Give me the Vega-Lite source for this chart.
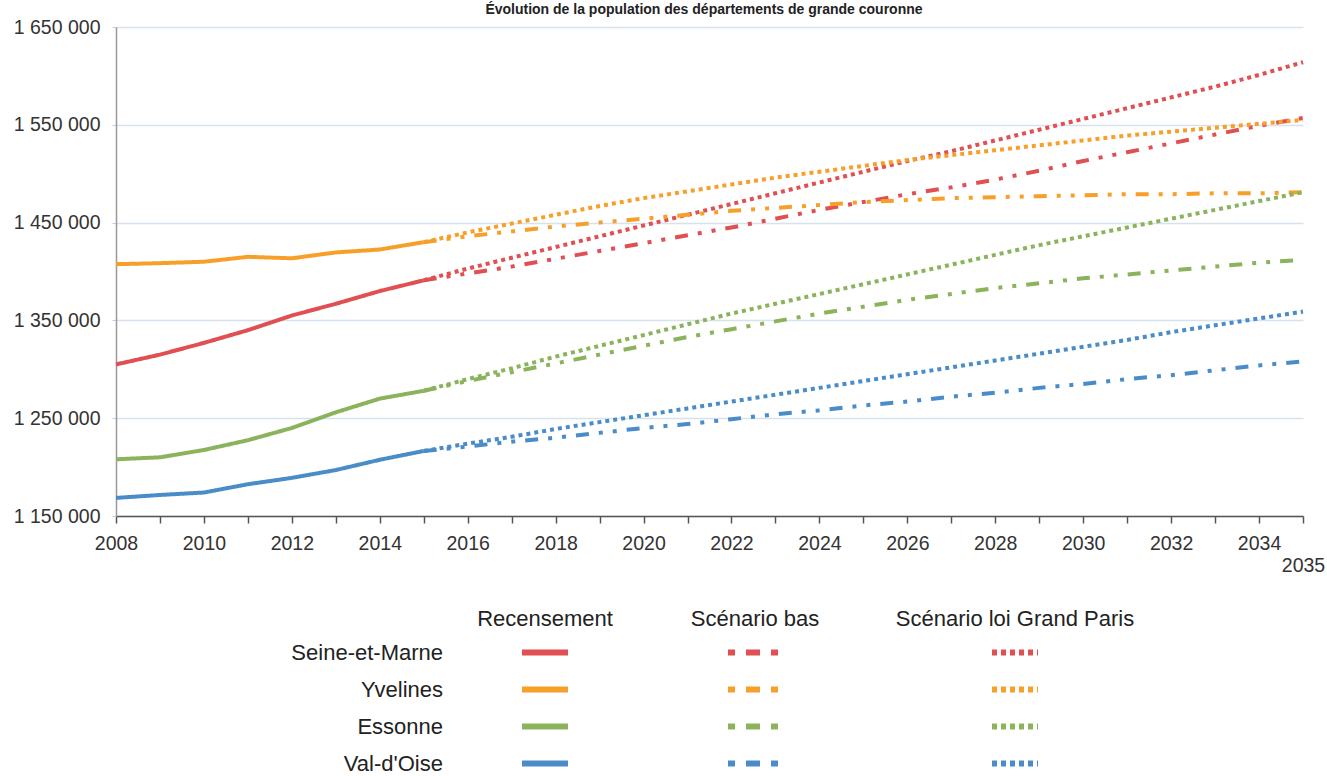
{
  "$schema": "https://vega.github.io/schema/vega-lite/v6.json",
  "padding": {"top": 3, "left": 13, "right": 0, "bottom": 0},
  "background": "white",
  "title": {"text": "Évolution de la population des départements de grande couronne", "fontSize": 14, "fontWeight": "bold", "font": "Liberation Sans", "color": "#222", "anchor": "middle", "dx": 35, "offset": 0},
  "config": {
    "view": {"stroke": null},
    "font": "Liberation Sans",
    "locale": {"number": {"decimal": ",", "thousands": " ", "grouping": [3], "currency": ["", " €"]}}
  },
  "resolve": {"scale": {"x": "independent", "y": "independent"}},
  "spacing": 22,
  "datasets": {
    "main": [
      {"dept": "Seine-et-Marne", "scenario": "Recensement", "year": 2008, "pop": 1305000},
      {"dept": "Seine-et-Marne", "scenario": "Recensement", "year": 2009, "pop": 1315000},
      {"dept": "Seine-et-Marne", "scenario": "Recensement", "year": 2010, "pop": 1327000},
      {"dept": "Seine-et-Marne", "scenario": "Recensement", "year": 2011, "pop": 1340000},
      {"dept": "Seine-et-Marne", "scenario": "Recensement", "year": 2012, "pop": 1355000},
      {"dept": "Seine-et-Marne", "scenario": "Recensement", "year": 2013, "pop": 1367000},
      {"dept": "Seine-et-Marne", "scenario": "Recensement", "year": 2014, "pop": 1380000},
      {"dept": "Seine-et-Marne", "scenario": "Recensement", "year": 2015, "pop": 1391000},
      {"dept": "Yvelines", "scenario": "Recensement", "year": 2008, "pop": 1407500},
      {"dept": "Yvelines", "scenario": "Recensement", "year": 2009, "pop": 1408500},
      {"dept": "Yvelines", "scenario": "Recensement", "year": 2010, "pop": 1410000},
      {"dept": "Yvelines", "scenario": "Recensement", "year": 2011, "pop": 1415000},
      {"dept": "Yvelines", "scenario": "Recensement", "year": 2012, "pop": 1413500},
      {"dept": "Yvelines", "scenario": "Recensement", "year": 2013, "pop": 1419500},
      {"dept": "Yvelines", "scenario": "Recensement", "year": 2014, "pop": 1422500},
      {"dept": "Yvelines", "scenario": "Recensement", "year": 2015, "pop": 1430000},
      {"dept": "Essonne", "scenario": "Recensement", "year": 2008, "pop": 1208000},
      {"dept": "Essonne", "scenario": "Recensement", "year": 2009, "pop": 1210000},
      {"dept": "Essonne", "scenario": "Recensement", "year": 2010, "pop": 1217500},
      {"dept": "Essonne", "scenario": "Recensement", "year": 2011, "pop": 1227500},
      {"dept": "Essonne", "scenario": "Recensement", "year": 2012, "pop": 1240000},
      {"dept": "Essonne", "scenario": "Recensement", "year": 2013, "pop": 1256000},
      {"dept": "Essonne", "scenario": "Recensement", "year": 2014, "pop": 1270000},
      {"dept": "Essonne", "scenario": "Recensement", "year": 2015, "pop": 1278000},
      {"dept": "Val-d'Oise", "scenario": "Recensement", "year": 2008, "pop": 1168500},
      {"dept": "Val-d'Oise", "scenario": "Recensement", "year": 2009, "pop": 1171500},
      {"dept": "Val-d'Oise", "scenario": "Recensement", "year": 2010, "pop": 1174000},
      {"dept": "Val-d'Oise", "scenario": "Recensement", "year": 2011, "pop": 1182500},
      {"dept": "Val-d'Oise", "scenario": "Recensement", "year": 2012, "pop": 1189000},
      {"dept": "Val-d'Oise", "scenario": "Recensement", "year": 2013, "pop": 1197000},
      {"dept": "Val-d'Oise", "scenario": "Recensement", "year": 2014, "pop": 1207500},
      {"dept": "Val-d'Oise", "scenario": "Recensement", "year": 2015, "pop": 1216500},

      {"dept": "Seine-et-Marne", "scenario": "Scénario bas", "year": 2015, "pop": 1391000},
      {"dept": "Seine-et-Marne", "scenario": "Scénario bas", "year": 2016, "pop": 1398000},
      {"dept": "Seine-et-Marne", "scenario": "Scénario bas", "year": 2017, "pop": 1405000},
      {"dept": "Seine-et-Marne", "scenario": "Scénario bas", "year": 2018, "pop": 1413000},
      {"dept": "Seine-et-Marne", "scenario": "Scénario bas", "year": 2019, "pop": 1421000},
      {"dept": "Seine-et-Marne", "scenario": "Scénario bas", "year": 2020, "pop": 1429000},
      {"dept": "Seine-et-Marne", "scenario": "Scénario bas", "year": 2021, "pop": 1437000},
      {"dept": "Seine-et-Marne", "scenario": "Scénario bas", "year": 2022, "pop": 1445000},
      {"dept": "Seine-et-Marne", "scenario": "Scénario bas", "year": 2023, "pop": 1454000},
      {"dept": "Seine-et-Marne", "scenario": "Scénario bas", "year": 2024, "pop": 1463000},
      {"dept": "Seine-et-Marne", "scenario": "Scénario bas", "year": 2025, "pop": 1471000},
      {"dept": "Seine-et-Marne", "scenario": "Scénario bas", "year": 2026, "pop": 1479000},
      {"dept": "Seine-et-Marne", "scenario": "Scénario bas", "year": 2027, "pop": 1486000},
      {"dept": "Seine-et-Marne", "scenario": "Scénario bas", "year": 2028, "pop": 1494000},
      {"dept": "Seine-et-Marne", "scenario": "Scénario bas", "year": 2029, "pop": 1503000},
      {"dept": "Seine-et-Marne", "scenario": "Scénario bas", "year": 2030, "pop": 1513000},
      {"dept": "Seine-et-Marne", "scenario": "Scénario bas", "year": 2031, "pop": 1522000},
      {"dept": "Seine-et-Marne", "scenario": "Scénario bas", "year": 2032, "pop": 1531000},
      {"dept": "Seine-et-Marne", "scenario": "Scénario bas", "year": 2033, "pop": 1540000},
      {"dept": "Seine-et-Marne", "scenario": "Scénario bas", "year": 2034, "pop": 1549000},
      {"dept": "Seine-et-Marne", "scenario": "Scénario bas", "year": 2035, "pop": 1557000},
      {"dept": "Seine-et-Marne", "scenario": "Scénario loi Grand Paris", "year": 2015, "pop": 1391000},
      {"dept": "Seine-et-Marne", "scenario": "Scénario loi Grand Paris", "year": 2016, "pop": 1403000},
      {"dept": "Seine-et-Marne", "scenario": "Scénario loi Grand Paris", "year": 2017, "pop": 1414000},
      {"dept": "Seine-et-Marne", "scenario": "Scénario loi Grand Paris", "year": 2018, "pop": 1425000},
      {"dept": "Seine-et-Marne", "scenario": "Scénario loi Grand Paris", "year": 2019, "pop": 1436000},
      {"dept": "Seine-et-Marne", "scenario": "Scénario loi Grand Paris", "year": 2020, "pop": 1447000},
      {"dept": "Seine-et-Marne", "scenario": "Scénario loi Grand Paris", "year": 2021, "pop": 1458000},
      {"dept": "Seine-et-Marne", "scenario": "Scénario loi Grand Paris", "year": 2022, "pop": 1469000},
      {"dept": "Seine-et-Marne", "scenario": "Scénario loi Grand Paris", "year": 2023, "pop": 1480000},
      {"dept": "Seine-et-Marne", "scenario": "Scénario loi Grand Paris", "year": 2024, "pop": 1491000},
      {"dept": "Seine-et-Marne", "scenario": "Scénario loi Grand Paris", "year": 2025, "pop": 1502000},
      {"dept": "Seine-et-Marne", "scenario": "Scénario loi Grand Paris", "year": 2026, "pop": 1513000},
      {"dept": "Seine-et-Marne", "scenario": "Scénario loi Grand Paris", "year": 2027, "pop": 1523000},
      {"dept": "Seine-et-Marne", "scenario": "Scénario loi Grand Paris", "year": 2028, "pop": 1534000},
      {"dept": "Seine-et-Marne", "scenario": "Scénario loi Grand Paris", "year": 2029, "pop": 1545000},
      {"dept": "Seine-et-Marne", "scenario": "Scénario loi Grand Paris", "year": 2030, "pop": 1556000},
      {"dept": "Seine-et-Marne", "scenario": "Scénario loi Grand Paris", "year": 2031, "pop": 1567000},
      {"dept": "Seine-et-Marne", "scenario": "Scénario loi Grand Paris", "year": 2032, "pop": 1578000},
      {"dept": "Seine-et-Marne", "scenario": "Scénario loi Grand Paris", "year": 2033, "pop": 1589000},
      {"dept": "Seine-et-Marne", "scenario": "Scénario loi Grand Paris", "year": 2034, "pop": 1601000},
      {"dept": "Seine-et-Marne", "scenario": "Scénario loi Grand Paris", "year": 2035, "pop": 1614000},

      {"dept": "Yvelines", "scenario": "Scénario bas", "year": 2015, "pop": 1430000},
      {"dept": "Yvelines", "scenario": "Scénario bas", "year": 2016, "pop": 1436000},
      {"dept": "Yvelines", "scenario": "Scénario bas", "year": 2017, "pop": 1441000},
      {"dept": "Yvelines", "scenario": "Scénario bas", "year": 2018, "pop": 1446000},
      {"dept": "Yvelines", "scenario": "Scénario bas", "year": 2019, "pop": 1450000},
      {"dept": "Yvelines", "scenario": "Scénario bas", "year": 2020, "pop": 1454000},
      {"dept": "Yvelines", "scenario": "Scénario bas", "year": 2021, "pop": 1458000},
      {"dept": "Yvelines", "scenario": "Scénario bas", "year": 2022, "pop": 1462000},
      {"dept": "Yvelines", "scenario": "Scénario bas", "year": 2023, "pop": 1465000},
      {"dept": "Yvelines", "scenario": "Scénario bas", "year": 2024, "pop": 1468000},
      {"dept": "Yvelines", "scenario": "Scénario bas", "year": 2025, "pop": 1471000},
      {"dept": "Yvelines", "scenario": "Scénario bas", "year": 2026, "pop": 1473000},
      {"dept": "Yvelines", "scenario": "Scénario bas", "year": 2027, "pop": 1475000},
      {"dept": "Yvelines", "scenario": "Scénario bas", "year": 2028, "pop": 1476000},
      {"dept": "Yvelines", "scenario": "Scénario bas", "year": 2029, "pop": 1477000},
      {"dept": "Yvelines", "scenario": "Scénario bas", "year": 2030, "pop": 1478000},
      {"dept": "Yvelines", "scenario": "Scénario bas", "year": 2031, "pop": 1479000},
      {"dept": "Yvelines", "scenario": "Scénario bas", "year": 2032, "pop": 1479000},
      {"dept": "Yvelines", "scenario": "Scénario bas", "year": 2033, "pop": 1480000},
      {"dept": "Yvelines", "scenario": "Scénario bas", "year": 2034, "pop": 1480000},
      {"dept": "Yvelines", "scenario": "Scénario bas", "year": 2035, "pop": 1481000},
      {"dept": "Yvelines", "scenario": "Scénario loi Grand Paris", "year": 2015, "pop": 1430000},
      {"dept": "Yvelines", "scenario": "Scénario loi Grand Paris", "year": 2016, "pop": 1440000},
      {"dept": "Yvelines", "scenario": "Scénario loi Grand Paris", "year": 2017, "pop": 1449000},
      {"dept": "Yvelines", "scenario": "Scénario loi Grand Paris", "year": 2018, "pop": 1458000},
      {"dept": "Yvelines", "scenario": "Scénario loi Grand Paris", "year": 2019, "pop": 1467000},
      {"dept": "Yvelines", "scenario": "Scénario loi Grand Paris", "year": 2020, "pop": 1475000},
      {"dept": "Yvelines", "scenario": "Scénario loi Grand Paris", "year": 2021, "pop": 1482000},
      {"dept": "Yvelines", "scenario": "Scénario loi Grand Paris", "year": 2022, "pop": 1489000},
      {"dept": "Yvelines", "scenario": "Scénario loi Grand Paris", "year": 2023, "pop": 1496000},
      {"dept": "Yvelines", "scenario": "Scénario loi Grand Paris", "year": 2024, "pop": 1502000},
      {"dept": "Yvelines", "scenario": "Scénario loi Grand Paris", "year": 2025, "pop": 1508000},
      {"dept": "Yvelines", "scenario": "Scénario loi Grand Paris", "year": 2026, "pop": 1514000},
      {"dept": "Yvelines", "scenario": "Scénario loi Grand Paris", "year": 2027, "pop": 1519000},
      {"dept": "Yvelines", "scenario": "Scénario loi Grand Paris", "year": 2028, "pop": 1524000},
      {"dept": "Yvelines", "scenario": "Scénario loi Grand Paris", "year": 2029, "pop": 1529000},
      {"dept": "Yvelines", "scenario": "Scénario loi Grand Paris", "year": 2030, "pop": 1534000},
      {"dept": "Yvelines", "scenario": "Scénario loi Grand Paris", "year": 2031, "pop": 1539000},
      {"dept": "Yvelines", "scenario": "Scénario loi Grand Paris", "year": 2032, "pop": 1543000},
      {"dept": "Yvelines", "scenario": "Scénario loi Grand Paris", "year": 2033, "pop": 1547000},
      {"dept": "Yvelines", "scenario": "Scénario loi Grand Paris", "year": 2034, "pop": 1551000},
      {"dept": "Yvelines", "scenario": "Scénario loi Grand Paris", "year": 2035, "pop": 1555000},

      {"dept": "Essonne", "scenario": "Scénario bas", "year": 2015, "pop": 1278000},
      {"dept": "Essonne", "scenario": "Scénario bas", "year": 2016, "pop": 1288000},
      {"dept": "Essonne", "scenario": "Scénario bas", "year": 2017, "pop": 1297000},
      {"dept": "Essonne", "scenario": "Scénario bas", "year": 2018, "pop": 1306000},
      {"dept": "Essonne", "scenario": "Scénario bas", "year": 2019, "pop": 1315000},
      {"dept": "Essonne", "scenario": "Scénario bas", "year": 2020, "pop": 1324000},
      {"dept": "Essonne", "scenario": "Scénario bas", "year": 2021, "pop": 1333000},
      {"dept": "Essonne", "scenario": "Scénario bas", "year": 2022, "pop": 1341000},
      {"dept": "Essonne", "scenario": "Scénario bas", "year": 2023, "pop": 1349000},
      {"dept": "Essonne", "scenario": "Scénario bas", "year": 2024, "pop": 1357000},
      {"dept": "Essonne", "scenario": "Scénario bas", "year": 2025, "pop": 1364000},
      {"dept": "Essonne", "scenario": "Scénario bas", "year": 2026, "pop": 1371000},
      {"dept": "Essonne", "scenario": "Scénario bas", "year": 2027, "pop": 1377000},
      {"dept": "Essonne", "scenario": "Scénario bas", "year": 2028, "pop": 1383000},
      {"dept": "Essonne", "scenario": "Scénario bas", "year": 2029, "pop": 1388000},
      {"dept": "Essonne", "scenario": "Scénario bas", "year": 2030, "pop": 1393000},
      {"dept": "Essonne", "scenario": "Scénario bas", "year": 2031, "pop": 1397000},
      {"dept": "Essonne", "scenario": "Scénario bas", "year": 2032, "pop": 1401000},
      {"dept": "Essonne", "scenario": "Scénario bas", "year": 2033, "pop": 1405000},
      {"dept": "Essonne", "scenario": "Scénario bas", "year": 2034, "pop": 1409000},
      {"dept": "Essonne", "scenario": "Scénario bas", "year": 2035, "pop": 1412000},
      {"dept": "Essonne", "scenario": "Scénario loi Grand Paris", "year": 2015, "pop": 1278000},
      {"dept": "Essonne", "scenario": "Scénario loi Grand Paris", "year": 2016, "pop": 1290000},
      {"dept": "Essonne", "scenario": "Scénario loi Grand Paris", "year": 2017, "pop": 1301000},
      {"dept": "Essonne", "scenario": "Scénario loi Grand Paris", "year": 2018, "pop": 1313000},
      {"dept": "Essonne", "scenario": "Scénario loi Grand Paris", "year": 2019, "pop": 1324000},
      {"dept": "Essonne", "scenario": "Scénario loi Grand Paris", "year": 2020, "pop": 1335000},
      {"dept": "Essonne", "scenario": "Scénario loi Grand Paris", "year": 2021, "pop": 1346000},
      {"dept": "Essonne", "scenario": "Scénario loi Grand Paris", "year": 2022, "pop": 1357000},
      {"dept": "Essonne", "scenario": "Scénario loi Grand Paris", "year": 2023, "pop": 1367000},
      {"dept": "Essonne", "scenario": "Scénario loi Grand Paris", "year": 2024, "pop": 1377000},
      {"dept": "Essonne", "scenario": "Scénario loi Grand Paris", "year": 2025, "pop": 1387000},
      {"dept": "Essonne", "scenario": "Scénario loi Grand Paris", "year": 2026, "pop": 1397000},
      {"dept": "Essonne", "scenario": "Scénario loi Grand Paris", "year": 2027, "pop": 1407000},
      {"dept": "Essonne", "scenario": "Scénario loi Grand Paris", "year": 2028, "pop": 1417000},
      {"dept": "Essonne", "scenario": "Scénario loi Grand Paris", "year": 2029, "pop": 1427000},
      {"dept": "Essonne", "scenario": "Scénario loi Grand Paris", "year": 2030, "pop": 1436000},
      {"dept": "Essonne", "scenario": "Scénario loi Grand Paris", "year": 2031, "pop": 1445000},
      {"dept": "Essonne", "scenario": "Scénario loi Grand Paris", "year": 2032, "pop": 1454000},
      {"dept": "Essonne", "scenario": "Scénario loi Grand Paris", "year": 2033, "pop": 1463000},
      {"dept": "Essonne", "scenario": "Scénario loi Grand Paris", "year": 2034, "pop": 1472000},
      {"dept": "Essonne", "scenario": "Scénario loi Grand Paris", "year": 2035, "pop": 1481000},

      {"dept": "Val-d'Oise", "scenario": "Scénario bas", "year": 2015, "pop": 1216500},
      {"dept": "Val-d'Oise", "scenario": "Scénario bas", "year": 2016, "pop": 1221000},
      {"dept": "Val-d'Oise", "scenario": "Scénario bas", "year": 2017, "pop": 1226000},
      {"dept": "Val-d'Oise", "scenario": "Scénario bas", "year": 2018, "pop": 1230000},
      {"dept": "Val-d'Oise", "scenario": "Scénario bas", "year": 2019, "pop": 1235000},
      {"dept": "Val-d'Oise", "scenario": "Scénario bas", "year": 2020, "pop": 1240000},
      {"dept": "Val-d'Oise", "scenario": "Scénario bas", "year": 2021, "pop": 1244000},
      {"dept": "Val-d'Oise", "scenario": "Scénario bas", "year": 2022, "pop": 1249000},
      {"dept": "Val-d'Oise", "scenario": "Scénario bas", "year": 2023, "pop": 1254000},
      {"dept": "Val-d'Oise", "scenario": "Scénario bas", "year": 2024, "pop": 1258000},
      {"dept": "Val-d'Oise", "scenario": "Scénario bas", "year": 2025, "pop": 1263000},
      {"dept": "Val-d'Oise", "scenario": "Scénario bas", "year": 2026, "pop": 1267000},
      {"dept": "Val-d'Oise", "scenario": "Scénario bas", "year": 2027, "pop": 1272000},
      {"dept": "Val-d'Oise", "scenario": "Scénario bas", "year": 2028, "pop": 1276000},
      {"dept": "Val-d'Oise", "scenario": "Scénario bas", "year": 2029, "pop": 1281000},
      {"dept": "Val-d'Oise", "scenario": "Scénario bas", "year": 2030, "pop": 1285000},
      {"dept": "Val-d'Oise", "scenario": "Scénario bas", "year": 2031, "pop": 1290000},
      {"dept": "Val-d'Oise", "scenario": "Scénario bas", "year": 2032, "pop": 1294000},
      {"dept": "Val-d'Oise", "scenario": "Scénario bas", "year": 2033, "pop": 1299000},
      {"dept": "Val-d'Oise", "scenario": "Scénario bas", "year": 2034, "pop": 1304000},
      {"dept": "Val-d'Oise", "scenario": "Scénario bas", "year": 2035, "pop": 1308000},
      {"dept": "Val-d'Oise", "scenario": "Scénario loi Grand Paris", "year": 2015, "pop": 1216500},
      {"dept": "Val-d'Oise", "scenario": "Scénario loi Grand Paris", "year": 2016, "pop": 1224000},
      {"dept": "Val-d'Oise", "scenario": "Scénario loi Grand Paris", "year": 2017, "pop": 1231000},
      {"dept": "Val-d'Oise", "scenario": "Scénario loi Grand Paris", "year": 2018, "pop": 1239000},
      {"dept": "Val-d'Oise", "scenario": "Scénario loi Grand Paris", "year": 2019, "pop": 1246000},
      {"dept": "Val-d'Oise", "scenario": "Scénario loi Grand Paris", "year": 2020, "pop": 1253000},
      {"dept": "Val-d'Oise", "scenario": "Scénario loi Grand Paris", "year": 2021, "pop": 1260000},
      {"dept": "Val-d'Oise", "scenario": "Scénario loi Grand Paris", "year": 2022, "pop": 1267000},
      {"dept": "Val-d'Oise", "scenario": "Scénario loi Grand Paris", "year": 2023, "pop": 1274000},
      {"dept": "Val-d'Oise", "scenario": "Scénario loi Grand Paris", "year": 2024, "pop": 1281000},
      {"dept": "Val-d'Oise", "scenario": "Scénario loi Grand Paris", "year": 2025, "pop": 1288000},
      {"dept": "Val-d'Oise", "scenario": "Scénario loi Grand Paris", "year": 2026, "pop": 1295000},
      {"dept": "Val-d'Oise", "scenario": "Scénario loi Grand Paris", "year": 2027, "pop": 1302000},
      {"dept": "Val-d'Oise", "scenario": "Scénario loi Grand Paris", "year": 2028, "pop": 1309000},
      {"dept": "Val-d'Oise", "scenario": "Scénario loi Grand Paris", "year": 2029, "pop": 1316000},
      {"dept": "Val-d'Oise", "scenario": "Scénario loi Grand Paris", "year": 2030, "pop": 1323000},
      {"dept": "Val-d'Oise", "scenario": "Scénario loi Grand Paris", "year": 2031, "pop": 1330000},
      {"dept": "Val-d'Oise", "scenario": "Scénario loi Grand Paris", "year": 2032, "pop": 1338000},
      {"dept": "Val-d'Oise", "scenario": "Scénario loi Grand Paris", "year": 2033, "pop": 1345000},
      {"dept": "Val-d'Oise", "scenario": "Scénario loi Grand Paris", "year": 2034, "pop": 1352000},
      {"dept": "Val-d'Oise", "scenario": "Scénario loi Grand Paris", "year": 2035, "pop": 1359000}
    ],
    "legend": [
      {"dept": "Seine-et-Marne", "scenario": "Recensement"},
      {"dept": "Yvelines", "scenario": "Recensement"},
      {"dept": "Essonne", "scenario": "Recensement"},
      {"dept": "Val-d'Oise", "scenario": "Recensement"},
      {"dept": "Seine-et-Marne", "scenario": "Scénario bas"},
      {"dept": "Yvelines", "scenario": "Scénario bas"},
      {"dept": "Essonne", "scenario": "Scénario bas"},
      {"dept": "Val-d'Oise", "scenario": "Scénario bas"},
      {"dept": "Seine-et-Marne", "scenario": "Scénario loi Grand Paris"},
      {"dept": "Yvelines", "scenario": "Scénario loi Grand Paris"},
      {"dept": "Essonne", "scenario": "Scénario loi Grand Paris"},
      {"dept": "Val-d'Oise", "scenario": "Scénario loi Grand Paris"}
    ],
    "scen": [
      {"scenario": "Recensement"},
      {"scenario": "Scénario bas"},
      {"scenario": "Scénario loi Grand Paris"}
    ]
  },
  "vconcat": [
    {
      "width": 1187,
      "height": 489,
      "data": {"name": "main"},
      "mark": {"type": "line", "strokeWidth": 4, "strokeCap": "butt"},
      "encoding": {
        "x": {
          "field": "year", "type": "quantitative",
          "scale": {"domain": [2008, 2035], "nice": false, "zero": false},
          "axis": {
            "title": null, "grid": false,
            "values": [2008, 2009, 2010, 2011, 2012, 2013, 2014, 2015, 2016, 2017, 2018, 2019, 2020, 2021, 2022, 2023, 2024, 2025, 2026, 2027, 2028, 2029, 2030, 2031, 2032, 2033, 2034, 2035],
            "format": "d",
            "labelExpr": "datum.value % 2 == 0 || datum.value == 2035 ? datum.label : ''",
            "labelFlush": false, "labelOverlap": false,
            "labelPadding": {"condition": {"test": "datum.value == 2035", "value": 33}, "value": 11},
            "labelFontSize": 19.5, "labelColor": "#333", "labelFont": "Liberation Sans",
            "tickSize": 7, "tickColor": "#555", "tickWidth": 1.5,
            "domainColor": "#555", "domainWidth": 1.5
          }
        },
        "y": {
          "field": "pop", "type": "quantitative",
          "scale": {"domain": [1150000, 1650000], "nice": false, "zero": false},
          "axis": {
            "title": null,
            "values": [1150000, 1250000, 1350000, 1450000, 1550000, 1650000],
            "format": ",d",
            "labelFontSize": 19.5, "labelColor": "#333", "labelFont": "Liberation Sans",
            "labelPadding": 12,
            "gridColor": "#d6e3ef", "gridWidth": 1.5,
            "tickSize": 4, "tickColor": "#ccc",
            "domainColor": "#999", "domainWidth": 1.5
          }
        },
        "color": {
          "field": "dept", "type": "nominal",
          "scale": {"domain": ["Seine-et-Marne", "Yvelines", "Essonne", "Val-d'Oise"], "range": ["#e04f52", "#f6a02a", "#8bb35c", "#4a8cc8"]},
          "legend": null
        },
        "strokeDash": {
          "field": "scenario", "type": "nominal",
          "scale": {"domain": ["Recensement", "Scénario bas", "Scénario loi Grand Paris"], "range": [[1, 0], [13, 10, 4, 10, 4, 10], [4, 4]]},
          "legend": null
        }
      }
    },
    {
      "hconcat": [
        {
          "width": 327,
          "height": 185,
          "data": {"name": "legend"},
          "transform": [{"filter": "datum.scenario == 'Recensement'"}],
          "mark": {"type": "text", "align": "right", "x": "width", "fontSize": 22, "font": "Liberation Sans", "color": "#222"},
          "encoding": {
            "y": {"field": "dept", "type": "nominal", "axis": null, "scale": {"type": "point", "domain": ["header", "Seine-et-Marne", "Yvelines", "Essonne", "Val-d'Oise"], "padding": 0.5}},
            "text": {"field": "dept"}
          }
        },
        {
          "width": 204,
          "height": 185,
          "layer": [
            {
              "data": {"name": "scen"},
              "transform": [{"filter": "datum.scenario == 'Recensement'"}],
              "mark": {"type": "text", "fontSize": 22, "font": "Liberation Sans", "color": "#222", "dy": 3},
              "encoding": {
                "x": {"field": "scenario", "type": "nominal", "axis": null, "scale": {"type": "point", "padding": 0.5}},
                "y": {"datum": "header", "type": "nominal", "axis": null, "scale": {"type": "point", "domain": ["header", "Seine-et-Marne", "Yvelines", "Essonne", "Val-d'Oise"], "padding": 0.5}},
                "text": {"field": "scenario"}
              }
            },
            {
              "data": {"name": "legend"},
              "transform": [{"filter": "datum.scenario == 'Recensement'"}],
              "mark": {"type": "rule", "strokeWidth": 6, "xOffset": -23, "x2Offset": 23},
              "encoding": {
                "x": {"field": "scenario", "type": "nominal", "axis": null},
                "x2": {"field": "scenario"},
                "y": {"field": "dept", "type": "nominal", "axis": null},
                "color": {"field": "dept", "type": "nominal", "legend": null}
              }
            }
          ]
        },
        {
          "width": 216,
          "height": 185,
          "layer": [
            {
              "data": {"name": "scen"},
              "transform": [{"filter": "datum.scenario == 'Scénario bas'"}],
              "mark": {"type": "text", "fontSize": 22, "font": "Liberation Sans", "color": "#222", "dy": 3},
              "encoding": {
                "x": {"field": "scenario", "type": "nominal", "axis": null, "scale": {"type": "point", "padding": 0.5}},
                "y": {"datum": "header", "type": "nominal", "axis": null, "scale": {"type": "point", "domain": ["header", "Seine-et-Marne", "Yvelines", "Essonne", "Val-d'Oise"], "padding": 0.5}},
                "text": {"field": "scenario"}
              }
            },
            {
              "data": {"name": "legend"},
              "transform": [{"filter": "datum.scenario == 'Scénario bas'"}],
              "mark": {"type": "rule", "strokeWidth": 6, "xOffset": -27, "x2Offset": 27, "strokeDash": [7, 11, 14, 11, 7, 60]},
              "encoding": {
                "x": {"field": "scenario", "type": "nominal", "axis": null},
                "x2": {"field": "scenario"},
                "y": {"field": "dept", "type": "nominal", "axis": null},
                "color": {"field": "dept", "type": "nominal", "legend": null}
              }
            }
          ]
        },
        {
          "width": 304,
          "height": 185,
          "layer": [
            {
              "data": {"name": "scen"},
              "transform": [{"filter": "datum.scenario == 'Scénario loi Grand Paris'"}],
              "mark": {"type": "text", "fontSize": 22, "font": "Liberation Sans", "color": "#222", "dy": 3},
              "encoding": {
                "x": {"field": "scenario", "type": "nominal", "axis": null, "scale": {"type": "point", "padding": 0.5}},
                "y": {"datum": "header", "type": "nominal", "axis": null, "scale": {"type": "point", "domain": ["header", "Seine-et-Marne", "Yvelines", "Essonne", "Val-d'Oise"], "padding": 0.5}},
                "text": {"field": "scenario"}
              }
            },
            {
              "data": {"name": "legend"},
              "transform": [{"filter": "datum.scenario == 'Scénario loi Grand Paris'"}],
              "mark": {"type": "rule", "strokeWidth": 6, "xOffset": -23, "x2Offset": 23, "strokeDash": [5, 4]},
              "encoding": {
                "x": {"field": "scenario", "type": "nominal", "axis": null},
                "x2": {"field": "scenario"},
                "y": {"field": "dept", "type": "nominal", "axis": null},
                "color": {"field": "dept", "type": "nominal", "legend": null}
              }
            }
          ]
        }
      ],
      "spacing": 0,
      "resolve": {"scale": {"x": "independent"}}
    }
  ]
}
